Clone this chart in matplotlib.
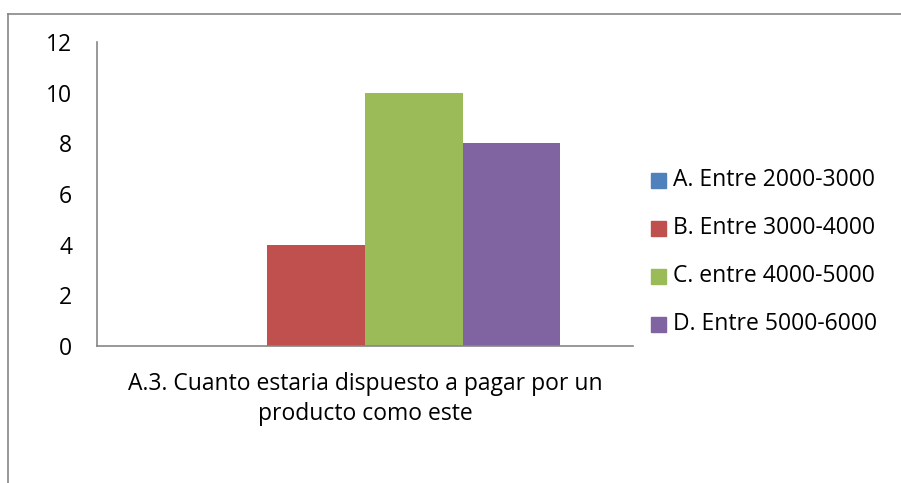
import matplotlib.pyplot as plt
from matplotlib.lines import Line2D
from matplotlib.patches import Rectangle

series = ["A. Entre 2000-3000", "B. Entre 3000-4000",
          "C. entre 4000-5000", "D. Entre 5000-6000"]
values = [0, 4, 10, 8]
colors = ["#4F81BD", "#C0504D", "#9BBB59", "#8064A2"]
yticks = [0, 2, 4, 6, 8, 10, 12]
category = "A.3. Cuanto estaria dispuesto a pagar por un\nproducto como este"

W, H = 901, 483
FS = 16.5
plt.rcParams['font.family'] = ['Open Sans', 'DejaVu Sans']

fig = plt.figure(figsize=(W / 100, H / 100), dpi=100)
ax = fig.add_axes([97 / W, 1 - 346 / H, (633 - 97) / W, (346 - 42) / H])

bw = 97.7 / 536
for i, (name, v, c) in enumerate(zip(series, values, colors)):
    ax.bar((i - 1.5) * bw, v, width=bw, color=c, label=name)

ax.set_xlim(-0.5, 0.5)
ax.set_ylim(0, 12)
ax.set_yticks(yticks)
ax.set_xticks([])
ax.tick_params(axis='y', length=0, pad=18, labelsize=FS)
for s in ['top', 'right']:
    ax.spines[s].set_visible(False)
for s in ['left', 'bottom']:
    ax.spines[s].set_color('#868686')
    ax.spines[s].set_linewidth(1.2)

fig.text(365 / W, 1 - 399 / H, category, ha='center', va='center',
         fontsize=FS, linespacing=1.35)

# legend drawn by hand so rows can sit on a fixed pitch
for i, (name, c) in enumerate(zip(series, colors)):
    yc = 180 + 48 * i
    fig.add_artist(Rectangle((651 / W, 1 - (yc + 7.5) / H), 15 / W, 15 / H,
                             transform=fig.transFigure, color=c))
    fig.text(673 / W, 1 - yc / H, name, ha='left', va='center', fontsize=FS)

# outer chart border (only left and top edges inside the image)
border = '#868686'
fig.add_artist(Line2D([8 / W, 8 / W], [0, 1 - 14 / H], color=border, lw=1.2))
fig.add_artist(Line2D([8 / W, 1], [1 - 14 / H, 1 - 14 / H], color=border, lw=1.2))

fig.savefig('out.png', dpi=100)
